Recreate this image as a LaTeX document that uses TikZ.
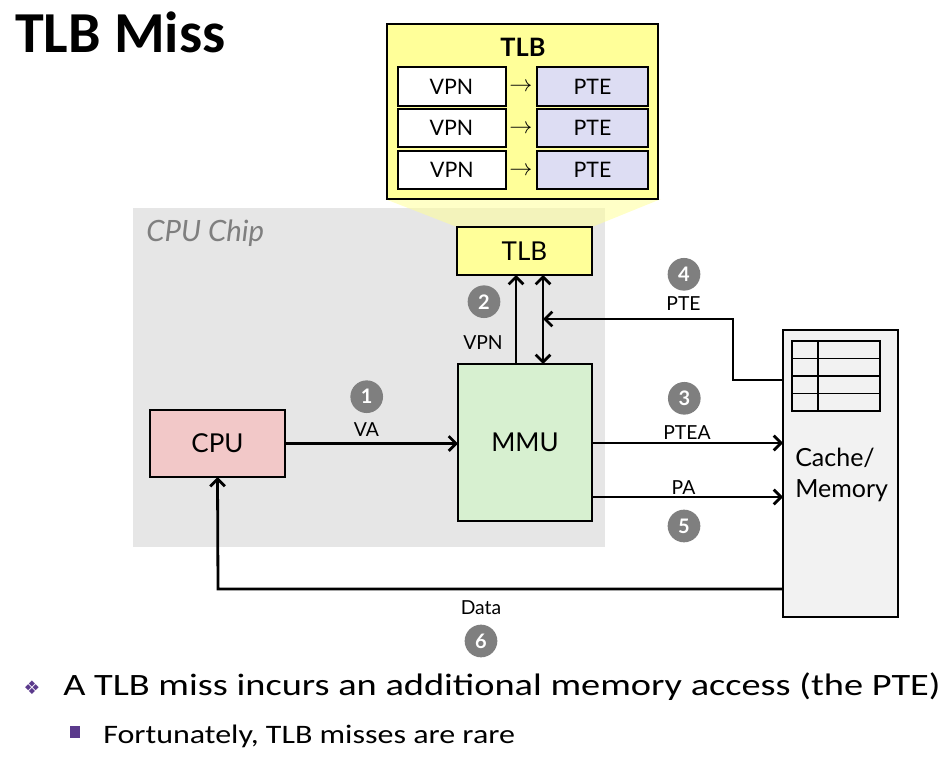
\documentclass[tikz,border=0pt]{standalone}
\usepackage{fontspec}
\setmainfont{Carlito}
\newfontfamily\lato{Lato}
\newfontfamily\dejavu{DejaVu Sans}
\usetikzlibrary{arrows.meta}
\definecolor{chipgray}{HTML}{E6E6E6}
\definecolor{tlbyellow}{HTML}{FFFF99}
\definecolor{ptelav}{HTML}{DDDDF3}
\definecolor{mmugreen}{HTML}{D7F0D0}
\definecolor{cpupink}{HTML}{F2C8C8}
\definecolor{memgray}{HTML}{F2F2F2}
\definecolor{numgray}{HTML}{7F7F7F}
\definecolor{bulletpurple}{HTML}{5B3A8C}
\begin{document}
\begin{tikzpicture}[x=0.75pt,y=-0.75pt,
  box/.style={draw=black, line width=1.6pt, inner sep=0pt, outer sep=0pt, font=\lato},
  arr/.style={line width=2.1pt, -{Straight Barb[length=5.5pt,width=11pt]}},
  dbl/.style={line width=2.1pt, {Straight Barb[length=5.5pt,width=11pt]}-{Straight Barb[length=5.5pt,width=11pt]}},
  num/.style={circle, fill=numgray, text=white, inner sep=0pt, minimum size=24.5pt, font=\lato\bfseries\fontsize{15pt}{16pt}\selectfont},
  lbl/.style={font=\lato\fontsize{14.5pt}{17pt}\selectfont, inner sep=0pt},
  big/.style={font=\lato\fontsize{19.5pt}{22pt}\selectfont},
  entry/.style={box, line width=1.5pt, minimum width=81pt, minimum height=29pt, font=\lato\fontsize{16pt}{18pt}\selectfont},
  tiparrow/.style={inner sep=0pt, font=\fontsize{17pt}{18pt}\selectfont}
]
\useasboundingbox (0,0) rectangle (947,764);
\fill[white] (0,0) rectangle (947,764);

% title
\node[anchor=base west, inner sep=0pt, font=\bfseries\fontsize{43.5pt}{50pt}\selectfont] (title) at (15,52) {TLB Miss};

% CPU chip background
\node[fill=chipgray, inner sep=0pt, minimum width=354pt, minimum height=254.25pt] (chip) at (369,377.5) {};
\node[anchor=base west, inner sep=0pt, text=numgray, font=\lato\itshape\fontsize{22pt}{26pt}\selectfont] (chiplbl) at (146,241.5) {CPU Chip};

% funnel
\fill[tlbyellow, opacity=0.55] (385,199) -- (661,199) -- (592,227) -- (457,227) -- cycle;

% zoomed TLB
\node[box, fill=tlbyellow, minimum width=203.25pt, minimum height=131.25pt] (ztlb) at (522.5,111.5) {};
\node[inner sep=0pt, font=\lato\bfseries\fontsize{19pt}{22pt}\selectfont] (ztlbtitle) at (523,47) {TLB};
\node[entry, fill=white] (vpn1) at (451.5,86.5) {VPN};
\node[entry, fill=white] (vpn2) at (451.5,128) {VPN};
\node[entry, fill=white] (vpn3) at (452,170) {VPN};
\node[entry, fill=ptelav, minimum width=83.25pt] (pte1) at (592.5,86.5) {PTE};
\node[entry, fill=ptelav, minimum width=83.25pt] (pte2) at (592.5,128) {PTE};
\node[entry, fill=ptelav, minimum width=83.25pt] (pte3) at (592.5,170) {PTE};
\node[tiparrow] (ar1) at (521,87) {$\rightarrow$};
\node[tiparrow] (ar2) at (521,129) {$\rightarrow$};
\node[tiparrow] (ar3) at (521,171) {$\rightarrow$};

% components
\node[box, big, fill=tlbyellow, minimum width=101.25pt, minimum height=36pt] (tlb) at (524.5,251) {TLB};
\node[box, big, fill=mmugreen, minimum width=100.5pt, minimum height=117.75pt] (mmu) at (525,442.5) {MMU};
\node[box, big, fill=cpupink, minimum width=101.25pt, minimum height=50.25pt] (cpu) at (217.5,443.5) {CPU};
\node[box, fill=memgray, minimum width=86.25pt, minimum height=215.25pt] (mem) at (840.5,473.5) {};
\draw[line width=1.2pt] (792,341) rectangle (880,411);
\draw[line width=1.2pt] (792,358.5) -- (880,358.5) (792,376) -- (880,376) (792,393.5) -- (880,393.5) (818,341) -- (818,411);
\node[anchor=west, align=left, inner sep=0pt, font=\lato\fontsize{18.75pt}{23.5pt}\selectfont] (memlbl) at (795,475) {Cache/\\Memory};

% helper coordinates
\coordinate (vx) at (516,0);
\coordinate (dx) at (543,0);
\coordinate (p1) at (733,380);
\coordinate (p2) at (733,319);
\coordinate (p3) at (543,319);
\coordinate (ya) at (0,443);
\coordinate (yb) at (0,497);
\coordinate (d1) at (218,589);

% connectors
\draw[arr] (cpu.east) -- (cpu.east -| mmu.west);
\draw[arr] (mmu.north -| vx) -- (tlb.south -| vx);
\draw[dbl] (tlb.south -| dx) -- (mmu.north -| dx);
\draw[arr] (mem.west |- p1) -- (p1) -- (p2) -- (p3);
\draw[arr] (mmu.east |- ya) -- (mem.west |- ya);
\draw[arr] (mmu.east |- yb) -- (mem.west |- yb);
\draw[arr] (mem.west |- d1) -- (d1) -- (cpu.south);

% labels
\node[lbl] (lva) at (366.5,430) {VA};
\node[lbl] (lvpn) at (483,343) {VPN};
\node[lbl] (lpte) at (683.5,304) {PTE};
\node[lbl] (lptea) at (687,432.5) {PTEA};
\node[lbl] (lpa) at (683.5,488) {PA};
\node[lbl] (ldata) at (481,608) {Data};

% step numbers
\node[num] (n1) at (366.7,396.7) {1};
\node[num] (n2) at (484,301.7) {2};
\node[num] (n3) at (684.3,398.3) {3};
\node[num] (n4) at (684,274.3) {4};
\node[num] (n5) at (684,526) {5};
\node[num] (n6) at (481,641) {6};

% bullets
\node[inner sep=0pt, text=bulletpurple, font=\dejavu\fontsize{14pt}{15pt}\selectfont] (b1) at (32,688) {❖};
\node[anchor=base west, inner sep=0pt, font=\fontsize{23.3pt}{28pt}\selectfont] (t1) at (63,695) {\scalebox{1.235}[1]{A TLB miss incurs an additional memory access (the PTE)}};
\node[fill=bulletpurple, inner sep=0pt, minimum width=7pt, minimum height=8.5pt] (b2) at (75,732) {};
\node[anchor=base west, inner sep=0pt, font=\fontsize{20pt}{24pt}\selectfont] (t2) at (103,743) {\scalebox{1.2}[1]{Fortunately, TLB misses are rare}};
\end{tikzpicture}
\end{document}
